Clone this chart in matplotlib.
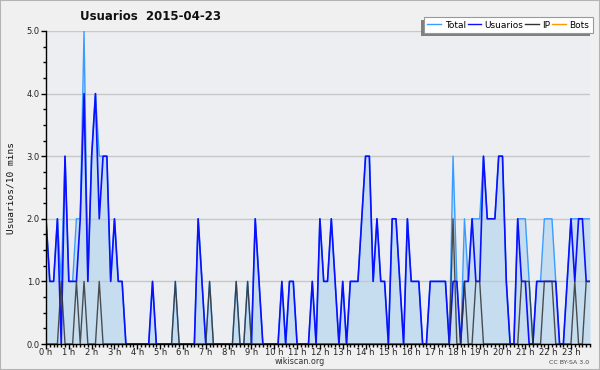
import matplotlib
matplotlib.use("Agg")
import matplotlib.pyplot as plt
from matplotlib.patches import Rectangle
from matplotlib.lines import Line2D
from matplotlib.ticker import MultipleLocator, FormatStrFormatter

# 10-minute slots, 144 per day
usuarios = [2, 1, 1, 2, 0, 3, 1, 1, 1, 2, 4, 1, 3, 4, 2, 3, 3, 1, 2, 1, 1, 0, 0, 0,
            0, 0, 0, 0, 1, 0, 0, 0, 0, 0, 0, 0, 0, 0, 0, 0, 2, 1, 0, 0, 0, 0, 0, 0,
            0, 0, 0, 0, 0, 0, 0, 2, 1, 0, 0, 0, 0, 0, 1, 0, 1, 1, 0, 0, 0, 0, 1, 0,
            2, 1, 1, 2, 1, 0, 1, 0, 1, 1, 1, 2, 3, 3, 1, 2, 1, 1, 0, 2, 2, 1, 0, 2,
            1, 1, 1, 0, 0, 1, 1, 1, 1, 1, 0, 1, 1, 0, 1, 1, 2, 1, 1, 3, 2, 2, 2, 3,
            3, 1, 0, 0, 2, 1, 1, 0, 0, 1, 1, 1, 1, 1, 1, 0, 0, 1, 2, 1, 2, 2, 1, 1]
ip = [0, 0, 0, 0, 1, 0, 0, 0, 1, 0, 1, 0, 0, 0, 1, 0, 0, 0, 0, 0, 0, 0, 0, 0,
      0, 0, 0, 0, 0, 0, 0, 0, 0, 0, 1, 0, 0, 0, 0, 0, 0, 0, 0, 1, 0, 0, 0, 0,
      0, 0, 1, 0, 0, 1, 0, 0, 0, 0, 0, 0, 0, 0, 0, 0, 0, 0, 0, 0, 0, 0, 0, 0,
      0, 0, 0, 0, 0, 0, 0, 0, 0, 0, 0, 0, 0, 0, 0, 0, 0, 0, 0, 0, 0, 0, 0, 0,
      0, 0, 0, 0, 0, 0, 0, 0, 0, 0, 0, 2, 0, 0, 1, 0, 0, 1, 1, 0, 0, 0, 0, 0,
      0, 0, 0, 0, 0, 1, 1, 1, 0, 0, 0, 1, 1, 1, 0, 0, 0, 0, 0, 1, 0, 0, 1, 1]
total = [2, 1, 1, 2, 1, 3, 1, 1, 2, 2, 5, 1, 3, 4, 3, 3, 3, 1, 2, 1, 1, 0, 0, 0,
         0, 0, 0, 0, 1, 0, 0, 0, 0, 0, 1, 0, 0, 0, 0, 0, 2, 1, 0, 1, 0, 0, 0, 0,
         0, 0, 1, 0, 0, 1, 0, 2, 1, 0, 0, 0, 0, 0, 1, 0, 1, 1, 0, 0, 0, 0, 1, 0,
         2, 1, 1, 2, 1, 0, 1, 0, 1, 1, 1, 2, 3, 3, 1, 2, 1, 1, 0, 2, 2, 1, 0, 2,
         1, 1, 1, 0, 0, 1, 1, 1, 1, 1, 0, 3, 1, 0, 2, 1, 2, 2, 2, 3, 2, 2, 2, 3,
         3, 1, 0, 0, 2, 2, 2, 1, 0, 1, 1, 2, 2, 2, 1, 0, 0, 1, 2, 2, 2, 2, 2, 2]
bots = [0, 0, 0, 0, 0, 0, 0, 0, 0, 0, 0, 0, 0, 0, 0, 0, 0, 0, 0, 0, 0, 0, 0, 0,
        0, 0, 0, 0, 0, 0, 0, 0, 0, 0, 0, 0, 0, 0, 0, 0, 0, 0, 0, 0, 0, 0, 0, 0,
        0, 0, 0, 0, 0, 0, 0, 0, 0, 0, 0, 0, 0, 0, 0, 0, 0, 0, 0, 0, 0, 0, 0, 0,
        0, 0, 0, 0, 0, 0, 0, 0, 0, 0, 0, 0, 0, 0, 0, 0, 0, 0, 0, 0, 0, 0, 0, 0,
        0, 0, 0, 0, 0, 0, 0, 0, 0, 0, 0, 0, 0, 0, 0, 0, 0, 0, 0, 0, 0, 0, 0, 0,
        0, 0, 0, 0, 0, 0, 0, 0, 0, 0, 0, 0, 0, 0, 0, 0, 0, 0, 0, 0, 0, 0, 0, 0]
hour_labels = ["0 h", "1 h", "2 h", "3 h", "4 h", "5 h", "6 h", "7 h", "8 h", "9 h",
               "10 h", "11 h", "12 h", "13 h", "14 h", "15 h", "16 h", "17 h", "18 h",
               "19 h", "20 h", "21 h", "22 h", "23 h"]
series_names = ["Total", "Usuarios", "IP", "Bots"]
title = "Usuarios  2015-04-23"
ylabel = "Usuarios/10 mins"

x = [i / 6 for i in range(len(total))]

W, H = 600, 370
fig = plt.figure(figsize=(W / 100, H / 100), dpi=100, facecolor="#f0f0f0")
ax = fig.add_axes([46 / W, 1 - 344 / H, 544 / W, 313 / H])
ax.set_facecolor("#eceef1")

c_total, c_users, c_ip, c_bots = "#3b9cff", "#0a10ff", "#333333", "#ff9900"

ax.fill_between(x, total, 0, color="#c6ddf0", lw=0, zorder=1)
for v in [1, 2, 3, 4, 5]:
    ax.axhline(v, color="#c8c8c8", lw=1.0, zorder=1.5)
ax.plot(x, bots, color=c_bots, lw=1.0, zorder=1.6)
ax.plot(x, total, color=c_total, lw=1.0, zorder=2)
ax.plot(x, usuarios, color=c_users, lw=1.2, zorder=3)
ax.plot(x, ip, color=c_ip, lw=1.0, alpha=0.85, zorder=4)

ax.set_xlim(0, (len(total) - 1) / 6)
ax.set_ylim(0, 5)
for s in ["top", "right"]:
    ax.spines[s].set_visible(False)
for s in ["left", "bottom"]:
    ax.spines[s].set_color("black")
    ax.spines[s].set_linewidth(1.0)
    ax.spines[s].set_zorder(5)

ax.set_xticks(range(len(hour_labels)))
ax.set_xticklabels(hour_labels)
ax.xaxis.set_minor_locator(MultipleLocator(1 / 6))
ax.yaxis.set_major_locator(MultipleLocator(1))
ax.yaxis.set_minor_locator(MultipleLocator(0.25))
ax.yaxis.set_major_formatter(FormatStrFormatter("%.1f"))
ax.tick_params(axis="both", which="major", length=3.5, width=1, color="black",
               labelsize=6, labelcolor="#222222")
ax.tick_params(axis="x", which="major", pad=-0.5)
ax.tick_params(axis="y", which="major", pad=1.0)
ax.tick_params(axis="both", which="minor", length=2.5, width=1, color="black")

ax.set_ylabel(ylabel, family="DejaVu Sans Mono", fontsize=6.8, color="#111111", labelpad=8)

fig.text(151 / W, 1 - 16 / H, title, ha="center", va="center",
         fontsize=8.5, fontweight="bold", color="#111111")
fig.text(300 / W, 1 - 362 / H, "wikiscan.org", ha="center", va="center",
         fontsize=5.8, color="#333333")
fig.text(589 / W, 1 - 362 / H, "CC BY-SA 3.0", ha="right", va="center",
         fontsize=4.5, color="#444444")

handles = [Line2D([], [], color=c, lw=1.0) for c in [c_total, c_users, c_ip, c_bots]]
leg = fig.legend(handles, series_names, loc="upper right",
                 bbox_to_anchor=(593 / W, 1 - 17 / H), ncol=4, fontsize=6.5,
                 frameon=True, fancybox=False, edgecolor="#999999", framealpha=1,
                 handlelength=1.5, handletextpad=0.4, columnspacing=0.2,
                 borderpad=0.4, borderaxespad=0)
leg.get_frame().set_linewidth(0.8)
leg.set_zorder(10)
fig.canvas.draw()
bb = leg.get_window_extent()
shadow = Rectangle((bb.x0 - 3, bb.y0 - 3), bb.width, bb.height, transform=None,
                   facecolor="#808080", edgecolor="none", zorder=9)
fig.add_artist(shadow)

fig.add_artist(Rectangle((0, 0), 1, 1, transform=fig.transFigure, fill=False,
                         edgecolor="#b4b4b4", lw=1.5))

fig.savefig("out.png", dpi=100, facecolor=fig.get_facecolor())
